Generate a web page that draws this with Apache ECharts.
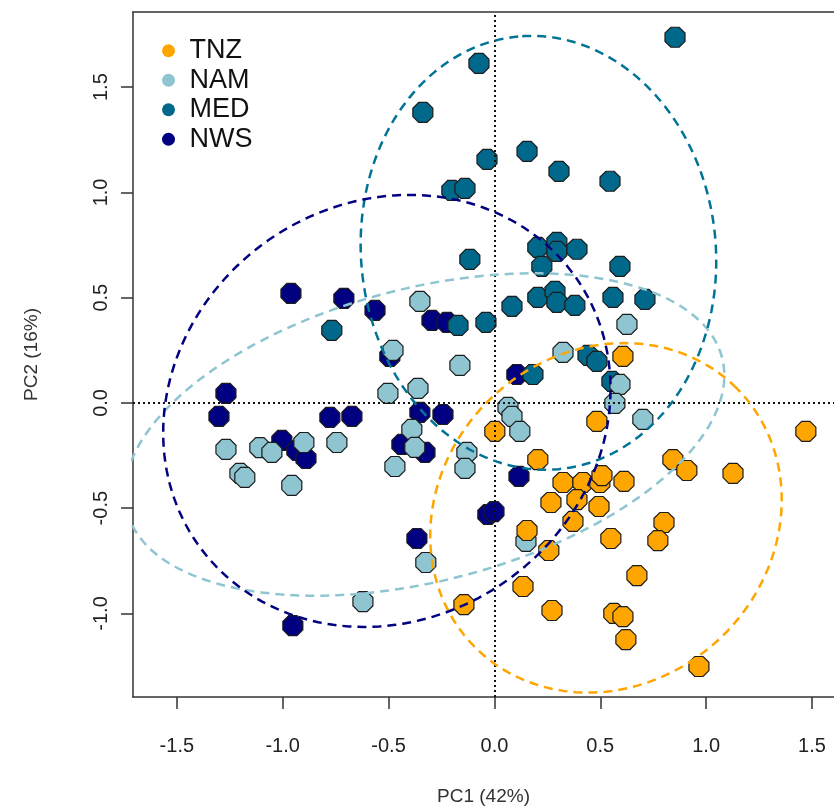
<!DOCTYPE html>
<html>
<head>
<meta charset="utf-8">
<script src="https://cdn.jsdelivr.net/npm/echarts@6/dist/echarts.min.js"></script>
<style>
  html, body { margin: 0; padding: 0; background: #fff; }
  #chart { width: 834px; height: 811px; }
</style>
</head>
<body>
<div id="chart"></div>
<script>
// PCA scores, [PC1, PC2] per sample
const tnzPoints = [
  [0.607, 0.221], [0.484, -0.088], [0.002, -0.135], [1.471, -0.135], [0.205, -0.269],
  [0.843, -0.269], [0.909, -0.321], [1.127, -0.335], [0.324, -0.378], [0.418, -0.378],
  [0.498, -0.378], [0.508, -0.345], [0.612, -0.373], [0.267, -0.473], [0.390, -0.459],
  [0.494, -0.492], [0.371, -0.563], [0.154, -0.606], [0.257, -0.701], [0.550, -0.644],
  [0.801, -0.568], [0.772, -0.654], [0.673, -0.820], [0.135, -0.872], [-0.144, -0.958],
  [0.272, -0.986], [0.564, -1.000], [0.607, -1.015], [0.621, -1.124], [0.966, -1.252]
]
const namPoints = [
  [-0.352, 0.482], [-0.479, 0.250], [-0.163, 0.178], [-0.503, 0.045], [-0.361, 0.069],
  [-1.268, -0.221], [-1.202, -0.335], [-1.179, -0.354], [-1.108, -0.212], [-1.051, -0.235],
  [-0.900, -0.188], [-0.744, -0.188], [-0.957, -0.392], [-0.470, -0.302], [-0.390, -0.126],
  [-0.376, -0.211], [-0.130, -0.235], [-0.139, -0.311], [-0.324, -0.758], [-0.621, -0.944],
  [0.064, -0.021], [0.083, -0.064], [0.120, -0.135], [0.149, -0.658], [0.324, 0.240],
  [0.593, 0.088], [0.569, -0.002], [0.626, 0.373], [0.701, -0.078]
]
const medPoints = [
  [0.853, 1.737], [-0.073, 1.613], [-0.338, 1.380], [-0.035, 1.157], [0.154, 1.195],
  [0.305, 1.100], [0.546, 1.053], [-0.201, 1.010], [-0.139, 1.019], [-0.116, 0.682],
  [0.205, 0.739], [0.295, 0.763], [0.295, 0.720], [0.390, 0.730], [0.224, 0.649],
  [0.593, 0.649], [0.083, 0.459], [0.205, 0.501], [0.286, 0.530], [0.295, 0.478],
  [0.380, 0.463], [0.560, 0.501], [0.711, 0.492], [-0.172, 0.368], [-0.040, 0.383],
  [0.182, 0.135], [0.442, 0.226], [0.484, 0.197], [0.555, 0.102], [-0.768, 0.345]
]
const nwsPoints = [
  [-0.961, 0.520], [-0.711, 0.497], [-0.564, 0.440], [-0.494, 0.221], [-1.268, 0.045],
  [-1.301, -0.064], [-0.777, -0.069], [-0.673, -0.064], [-1.004, -0.178], [-0.933, -0.226],
  [-0.890, -0.264], [-0.437, -0.197], [-0.352, -0.045], [-0.243, -0.055], [-0.328, -0.235],
  [-0.295, 0.392], [-0.224, 0.383], [0.106, 0.135], [0.116, -0.349], [-0.031, -0.530],
  [-0.002, -0.516], [-0.366, -0.644], [-0.952, -1.058]
]

// group ellipses: [centre PC1, centre PC2, semi-major, semi-minor, angle in degrees]
const tnzEllipse = [0.527, -0.546, 0.872, 0.786, 45]
const namEllipse = [-0.33, -0.150, 1.452, 0.695, 14.6]
const medEllipse = [0.208, 0.713, 1.032, 0.838, 95.3]
const nwsEllipse = [-0.508, -0.038, 1.095, 0.985, 37]

const groupNames = ['TNZ', 'NAM', 'MED', 'NWS']
const xTicks = [-1.5, -1.0, -0.5, 0.0, 0.5, 1.0, 1.5]
const yTicks = [-1.0, -0.5, 0.0, 0.5, 1.0, 1.5]

const colors = { TNZ: '#FFA500', NAM: '#8EC5D1', MED: '#00688B', NWS: '#000080' }
const lineColors = { TNZ: '#FFA500', NAM: '#8EC5D1', MED: '#007396', NWS: '#000080' }

// R draws its filled circles as small octagons at this size
const octagon = 'path://M92.4,38.3L38.3,92.4L-38.3,92.4L-92.4,38.3L-92.4,-38.3L-38.3,-92.4L38.3,-92.4L92.4,-38.3Z'

const chart = echarts.init(document.getElementById('chart'))

const ellipsePath = (e) => {
  const [cx, cy, a, b, deg] = e
  const th = deg * Math.PI / 180
  const pts = []
  for (let k = 0; k <= 180; k++) {
    const t = k * 2 * Math.PI / 180
    const u = a * Math.cos(t)
    const v = b * Math.sin(t)
    pts.push([cx + u * Math.cos(th) - v * Math.sin(th), cy + u * Math.sin(th) + v * Math.cos(th)])
  }
  return pts
}

const scatter = (name, data) => ({
  name,
  type: 'scatter',
  data,
  symbol: octagon,
  symbolSize: 20,
  z: 3,
  itemStyle: { color: colors[name], borderColor: '#1c1c1c', borderWidth: 1.2, opacity: 1 }
})

const ellipse = (name, e) => ({
  name: name + ' ellipse',
  type: 'line',
  data: ellipsePath(e),
  showSymbol: false,
  symbol: 'none',
  silent: true,
  clip: true,
  z: 5,
  lineStyle: { color: lineColors[name], width: 2.5, type: [9, 6] }
})

const fmt = v => v.toFixed(1)
const boxLine = { show: true, onZero: false, lineStyle: { color: '#333', width: 1.5 } }

chart.setOption({
  animation: false,
  backgroundColor: '#fff',
  textStyle: { fontFamily: 'Liberation Sans, Arial, sans-serif' },
  grid: { left: 133, top: 12, right: 0, height: 685, show: false },
  legend: {
    data: groupNames.map(name => ({ name, icon: 'circle' })),
    orient: 'vertical',
    left: 162, top: 36,
    padding: 0,
    itemGap: 0,
    itemWidth: 32, itemHeight: 13,
    itemStyle: { borderWidth: 0 },
    textStyle: { fontSize: 27, lineHeight: 29.5, color: '#111' }
  },
  xAxis: [
    {
      type: 'value',
      min: -1.707, max: 1.604,
      name: 'PC1 (42%)',
      nameLocation: 'middle',
      nameGap: 90,
      nameTextStyle: { fontSize: 19, color: '#333' },
      axisLine: boxLine,
      axisTick: { show: true, length: 12, customValues: xTicks, lineStyle: { color: '#333', width: 1.5 } },
      axisLabel: { customValues: xTicks, formatter: fmt, fontSize: 20, color: '#222', margin: 39 },
      splitLine: { show: false }
    },
    {
      // top edge of the plot box
      type: 'value',
      position: 'top',
      min: -1.707, max: 1.604,
      axisLine: boxLine,
      axisTick: { show: false },
      axisLabel: { show: false },
      splitLine: { show: false }
    }
  ],
  yAxis: {
    type: 'value',
    min: -1.397, max: 1.857,
    name: 'PC2 (16%)',
    nameLocation: 'middle',
    nameRotate: 90,
    nameGap: 92,
    nameTextStyle: { fontSize: 19, color: '#333' },
    axisLine: boxLine,
    axisTick: { show: true, length: 12, customValues: yTicks, lineStyle: { color: '#333', width: 1.5 } },
    axisLabel: { customValues: yTicks, formatter: fmt, fontSize: 20, color: '#222', margin: 22, rotate: 90 },
    splitLine: { show: false }
  },
  series: [
    {
      name: 'zero lines',
      type: 'scatter',
      data: [],
      z: 1,
      markLine: {
        silent: true,
        symbol: ['none', 'none'],
        label: { show: false },
        lineStyle: { type: [2, 3], color: '#111', width: 2 },
        data: [{ xAxis: 0 }, { yAxis: 0 }]
      }
    },
    scatter('NWS', nwsPoints),
    scatter('MED', medPoints),
    scatter('NAM', namPoints),
    scatter('TNZ', tnzPoints),
    ellipse('TNZ', tnzEllipse),
    ellipse('NAM', namEllipse),
    ellipse('MED', medEllipse),
    ellipse('NWS', nwsEllipse)
  ]
})
</script>
</body>
</html>
